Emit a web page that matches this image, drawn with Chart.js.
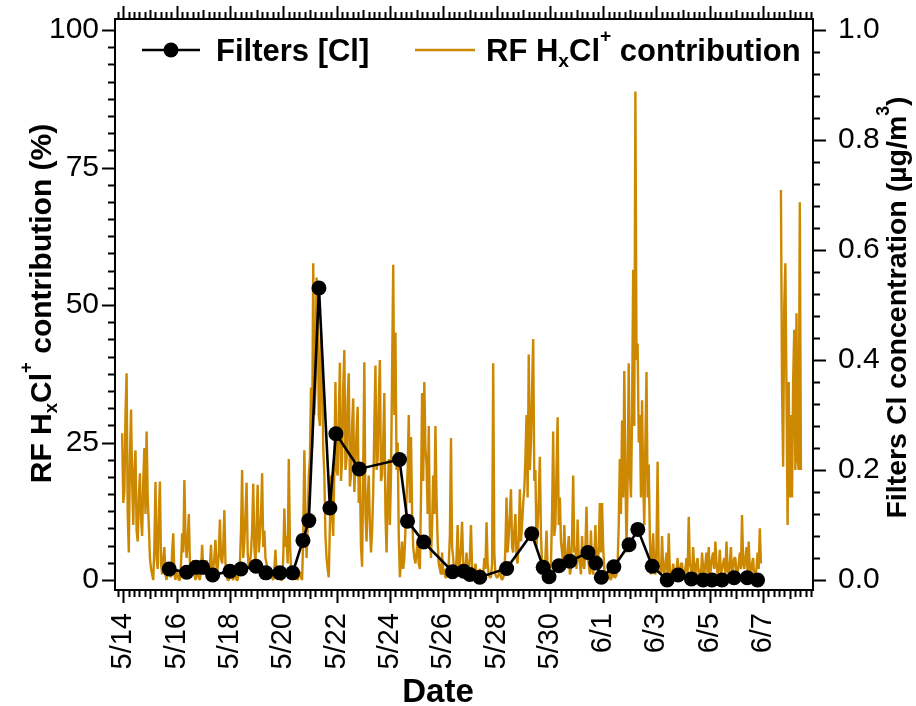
<!DOCTYPE html>
<html><head><meta charset="utf-8">
<script src="https://cdn.jsdelivr.net/npm/chart.js@4.4.0/dist/chart.umd.min.js"></script>
<style>html,body{margin:0;padding:0;background:#fff;}#wrap{width:916px;height:706px;}</style>
</head><body><div id="wrap"><canvas id="c" width="916" height="706"></canvas></div>
<script>
// ---- data (days counted from 5/14 00:00) ----
const dateTickDays = [0, 2, 4, 6, 8, 10, 12, 14, 16, 18, 20, 22, 24];
const dateTickLabels = ['5/14','5/16','5/18','5/20','5/22','5/24','5/26','5/28','5/30','6/1','6/3','6/5','6/7'];
const leftTicks = [0, 25, 50, 75, 100];
const rightTicks = [0, 0.2, 0.4, 0.6, 0.8, 1.0];

const filterDays = [1.725, 2.377, 2.726, 2.977, 3.352, 4.0, 4.413, 4.976, 5.35, 5.875, 6.352, 6.74, 6.96, 7.34, 7.75, 7.975, 8.85,
  10.36, 10.66, 11.27, 12.35, 12.77, 13.0, 13.37, 14.38, 15.32, 15.75, 15.97, 16.34, 16.75, 17.43, 17.72, 17.93, 18.4, 18.97, 19.3,
  19.84, 20.4, 20.81, 21.31, 21.75, 22.08, 22.46, 22.91, 23.4, 23.79];
const filterCl = [0.020, 0.014, 0.023, 0.023, 0.009, 0.016, 0.020, 0.025, 0.013, 0.013, 0.013, 0.072, 0.108, 0.531, 0.131, 0.266, 0.202,
  0.219, 0.107, 0.069, 0.015, 0.016, 0.010, 0.005, 0.021, 0.084, 0.023, 0.006, 0.026, 0.034, 0.050, 0.031, 0.005, 0.024, 0.064, 0.092,
  0.025, 0.0, 0.009, 0.002, 0.0, 0.0, 0.0, 0.004, 0.004, 0.0];

// RF HxCl+ contribution (%), hourly samples starting 5/13 23:00 (one row per day)
const rfStartDay = -1/24;
const rfStepDay = 1/24;
const rfContribution = [
  26.7, 14, 16, 30, 37.6, 12, 5, 22, 31, 18, 10, 20, 23.6, 9, 7, 15, 19.4, 11, 8, 18, 24, 12, 27, 15,
  10, 4, 2, 1, 0, 6, 17.8, 4, 2, 12, 17.9, 3, 1, 4, 6, 1, 0, 2, 3, 1, 0.5, 5, 8.5, 1,
  0, 2, 1, 0, 0, 3, 8.5, 5, 18.2, 8, 4, 7, 12, 3, 1, 2, 3.6, 1, 0, 1, 2, 0.5, 0, 2,
  6.4, 2, 1, 2, 3.6, 1, 0.5, 3, 6.4, 1, 2, 4, 7.3, 2, 2, 5, 11, 4, 3, 6, 12.7, 3, 1, 0,
  0, 1, 2, 0.5, 0, 1, 1, 0, 0, 2, 3, 9, 20, 4, 7, 12, 17.7, 5, 2, 3, 5, 9, 17.5, 6,
  3, 10, 17.3, 5, 8, 12, 19.4, 6, 9, 4, 3, 1, 0.5, 1, 2, 0.5, 0, 2, 5.5, 1, 0.5, 2, 1, 0,
  0, 4, 13, 6, 8, 3, 22, 7, 2, 1, 0.5, 2, 2, 0.5, 0, 1, 1.5, 0.5, 0, 8, 23.6, 12, 4, 10,
  19, 22, 35, 24, 57.6, 30, 35, 55, 52, 30, 28, 45, 40, 24, 19, 8, 4, 2, 0.5, 10, 19, 12, 8, 20,
  36, 20, 19, 30, 39.5, 18, 22, 35, 41.8, 20, 22, 33, 37.6, 17, 19, 28, 33, 16, 21, 27, 31.5, 14, 19, 6,
  2.4, 20, 39.6, 12, 7, 15, 19, 10, 5, 9, 16, 28, 39, 20, 22, 33, 40, 18, 19, 25, 34, 12, 5, 15,
  22, 10, 19, 38, 57.3, 30, 45, 20, 25, 8, 0.5, 3, 7, 2, 4, 9, 15, 20, 30, 14, 26, 12, 6, 4,
  3, 5, 7, 3, 2, 15, 34, 18, 36, 24, 21, 12, 28, 9, 4, 10, 19, 12, 28, 15, 7, 3, 2, 1,
  5, 1, 2, 0.5, 0.5, 1, 3, 8, 25.8, 6, 4, 1, 0.5, 4, 10, 2, 3, 6, 10.6, 3, 1, 2, 5, 1,
  2, 4, 10, 2, 1, 0.5, 3, 1, 0.5, 1, 2, 0.5, 0, 1, 4, 2, 10.5, 3, 1, 0.5, 0.5, 3, 39.4, 5,
  1, 0.5, 0.5, 1, 2, 0.5, 0, 0.5, 1, 6, 15, 5, 8, 12, 16.5, 6, 5, 9, 12, 4, 3, 8, 16.5, 7,
  10, 14, 16.5, 22, 30, 15, 41, 20, 25, 35, 43.8, 18, 20, 6, 10, 15, 22.4, 8, 3, 1, 1, 4, 9, 2,
  1, 2, 3, 12, 27, 8, 10, 20, 29.6, 10, 15, 7, 5, 3, 10, 4, 3, 5, 8, 1, 2, 8, 19, 5,
  6, 2, 11, 4, 3, 1, 8, 3, 2, 6, 13.3, 4, 3, 1, 9, 2, 1, 4, 10, 3, 2, 6, 14, 5,
  14, 6, 2, 1, 0.5, 0, 2, 0.5, 0, 1, 1.5, 0.5, 0.5, 1, 3, 10, 22, 12, 29, 15, 38, 20, 5, 18,
  39.4, 20, 15, 30, 56.4, 28, 88.8, 40, 43, 25, 30, 15, 32.7, 18, 10, 25, 37.8, 15, 21, 8, 1, 4, 8.5, 2,
  1, 6, 21.5, 2, 3, 1, 8, 2, 1, 3, 5, 1, 8.5, 2, 1, 0.5, 3, 1, 0.5, 2, 4, 0.5, 1, 3,
  3, 0.5, 1, 2, 4, 1, 11.5, 3, 2, 1, 6, 2, 1, 3, 4, 1, 2, 0.5, 5, 2, 1, 3, 5, 1,
  6, 1, 2, 4, 5, 2, 7, 3, 1, 2, 5.5, 1, 2, 3, 4, 1, 7, 2, 1, 3, 6, 1, 2, 4,
  4, 1, 1, 3, 5, 2, 11.8, 3, 2, 4, 6, 1, 7, 2, 1, 3, 4, 0.5, 1, 2, 5, 2, 9.4, 3,
  null, null, null, null, null, null, null, null, null, null, null, null, null, null, null, null, null, 70.9, 35, 20.6, 49.7, 57.6, 34.5, 10,
  36, 15, 30, 15, 36, 45.5, 20, 48.5, 22, 20, 68.7, 20
];

const ORANGE = '#CC8800';
const FONT = '"Liberation Sans", Arial, Helvetica, sans-serif';

function drawRich(ctx, parts, x, y, size, rot, align) {
  ctx.save();
  ctx.translate(x, y);
  ctx.rotate(rot);
  let total = 0;
  const items = parts.map(p => {
    const fs = p[1] === 'n' ? size : size * 0.62;
    ctx.font = 'bold ' + fs + 'px ' + FONT;
    const w = ctx.measureText(p[0]).width;
    total += w;
    return {t: p[0], s: p[1], fs, w};
  });
  let cx = align === 'left' ? 0 : -total / 2;
  ctx.fillStyle = '#000';
  ctx.textAlign = 'left';
  ctx.textBaseline = 'alphabetic';
  const base = size * 0.36;
  for (const it of items) {
    ctx.font = 'bold ' + it.fs + 'px ' + FONT;
    let dy = base;
    if (it.s === 'sub') dy += size * 0.2;
    if (it.s === 'sup') dy -= size * 0.62;
    ctx.fillText(it.t, cx, dy);
    cx += it.w;
  }
  ctx.restore();
}

function zeroPad(s) { s.paddingTop = 0; s.paddingBottom = 0; s.paddingLeft = 0; s.paddingRight = 0; }

const framePlugin = {
  id: 'frame',
  afterDraw(chart) {
    const {ctx, chartArea: a, scales: {x, y, y2}} = chart;
    ctx.save();
    ctx.strokeStyle = '#000';
    ctx.lineWidth = 2;
    ctx.lineCap = 'butt';
    ctx.strokeRect(a.left, a.top, a.right - a.left, a.bottom - a.top);
    ctx.beginPath();
    // x ticks, bottom and top (minor every 0.2 day)
    for (let j = Math.ceil(x.min * 5); j <= Math.floor(x.max * 5); j++) {
      const px = Math.round(x.getPixelForValue(j / 5)) + 0.5;
      const len = (j % 10 === 0) ? 13 : (j % 5 === 0 ? 9 : 7);
      ctx.moveTo(px, a.bottom); ctx.lineTo(px, a.bottom + len);
      ctx.moveTo(px, a.top); ctx.lineTo(px, a.top - len);
    }
    // left ticks
    for (let j = 0; j <= 32; j++) {
      const py = Math.round(y.getPixelForValue(j * 3.125)) + 0.5;
      const len = (j % 8 === 0) ? 13 : 7;
      ctx.moveTo(a.left, py); ctx.lineTo(a.left - len, py);
    }
    // right ticks
    for (let j = 0; j <= 25; j++) {
      const py = Math.round(y2.getPixelForValue(j * 0.04)) + 0.5;
      const len = (j % 5 === 0) ? 13 : 7;
      ctx.moveTo(a.right, py); ctx.lineTo(a.right + len, py);
    }
    ctx.stroke();

    // axis titles
    const midY = (a.top + a.bottom) / 2;
    drawRich(ctx, [['RF H','n'],['x','sub'],['Cl','n'],['+','sup'],[' contribution (%)','n']], 40, midY - 1, 30, -Math.PI / 2, 'center');
    drawRich(ctx, [['Filters Cl concentration (\u00b5g/m','n'],['3','sup'],[')','n']], 896, midY + 3, 28.5, -Math.PI / 2, 'center');
    drawRich(ctx, [['Date','n']], 438, 690, 33, 0, 'center');

    // legend
    const ly = 50;
    ctx.beginPath();
    ctx.strokeStyle = '#000'; ctx.lineWidth = 2.5;
    ctx.moveTo(142, ly); ctx.lineTo(200, ly); ctx.stroke();
    ctx.beginPath(); ctx.fillStyle = '#000';
    ctx.arc(171, ly, 7.5, 0, Math.PI * 2); ctx.fill();
    drawRich(ctx, [['Filters [Cl]','n']], 216, ly, 31, 0, 'left');
    ctx.beginPath();
    ctx.strokeStyle = ORANGE; ctx.lineWidth = 2.5;
    ctx.moveTo(415, ly); ctx.lineTo(475, ly); ctx.stroke();
    drawRich(ctx, [['RF H','n'],['x','sub'],['Cl','n'],['+','sup'],[' contribution','n']], 486, ly, 31, 0, 'left');
    ctx.restore();
  }
};

new Chart(document.getElementById('c'), {
  type: 'line',
  data: {
    datasets: [
      {
        label: 'Filters [Cl]',
        data: filterDays.map((d, i) => ({x: d, y: filterCl[i]})),
        yAxisID: 'y2',
        borderColor: '#000', backgroundColor: '#000',
        borderWidth: 2.6, pointRadius: 7.5, pointHoverRadius: 7.5,
        pointBorderWidth: 0, tension: 0, order: 0
      },
      {
        label: 'RF HxCl+ contribution',
        data: rfContribution.map((v, i) => ({x: rfStartDay + i * rfStepDay, y: v})),
        yAxisID: 'y',
        borderColor: ORANGE, backgroundColor: ORANGE,
        borderWidth: 2.4, borderJoinStyle: 'bevel',
        pointRadius: 0, tension: 0, spanGaps: false, order: 1
      }
    ]
  },
  options: {
    responsive: false,
    animation: false,
    devicePixelRatio: 1,
    layout: {padding: {top: 19, left: 0, right: 0, bottom: 0}},
    plugins: {legend: {display: false}, tooltip: {enabled: false}},
    events: [],
    scales: {
      x: {
        type: 'linear', position: 'bottom', min: -0.31, max: 25.87,
        grid: {display: false, drawTicks: false}, border: {display: false},
        afterBuildTicks: s => { s.ticks = dateTickDays.map(v => ({value: v})); },
        afterFit: s => { s.height = 116; zeroPad(s); },
        ticks: {
          autoSkip: false, minRotation: 90, maxRotation: 90, padding: 23,
          color: '#000', font: {family: FONT, size: 29},
          callback: v => { const k = dateTickDays.indexOf(v); return k >= 0 ? dateTickLabels[k] : ''; }
        }
      },
      y: {
        type: 'linear', position: 'left', min: -1.818, max: 102.0,
        grid: {display: false, drawTicks: false}, border: {display: false},
        afterBuildTicks: s => { s.ticks = leftTicks.map(v => ({value: v})); },
        afterFit: s => { s.width = 115; zeroPad(s); },
        ticks: {padding: 16, color: '#000', font: {family: FONT, size: 30}, callback: v => String(v)}
      },
      y2: {
        type: 'linear', position: 'right', min: -0.01818, max: 1.020,
        grid: {display: false, drawTicks: false}, border: {display: false},
        afterBuildTicks: s => { s.ticks = rightTicks.map(v => ({value: v})); },
        afterFit: s => { s.width = 103; zeroPad(s); },
        ticks: {padding: 25, color: '#000', font: {family: FONT, size: 30}, callback: v => v.toFixed(1)}
      }
    }
  },
  plugins: [framePlugin]
});
</script>
</body></html>
